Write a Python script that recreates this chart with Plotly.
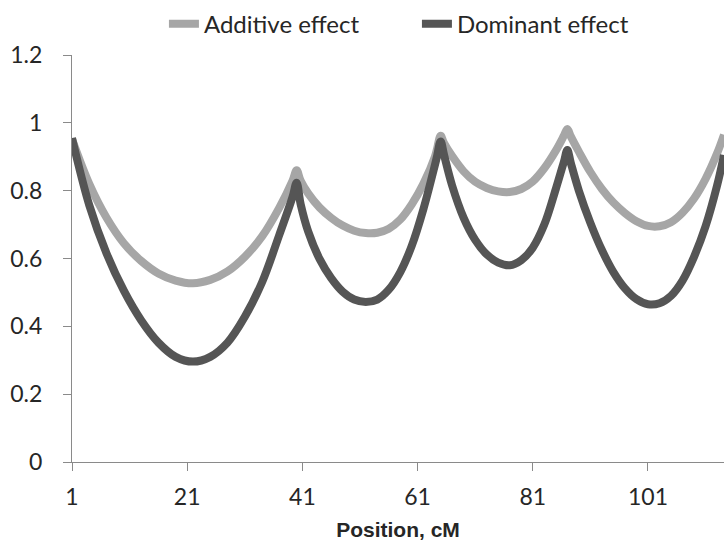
import plotly.graph_objects as go

# Additive effect along the chromosome (position in cM, effect size)
additive_pos = [1, 4, 7, 10, 13, 16, 19, 22, 25, 28, 31, 34, 37, 39.3, 40, 40.7,
                42, 44, 46, 48, 50, 52, 54, 56, 58, 60, 62, 64, 64.4, 65, 65.6,
                67, 69, 71, 73, 75, 77, 79, 81, 83, 85, 86.4, 87, 87.6,
                89, 91, 93, 95, 97, 99, 101, 103, 105, 107, 109, 111, 113, 114.2]
additive_val = [0.952, 0.82, 0.72, 0.645, 0.593, 0.556, 0.535, 0.527, 0.537, 0.562,
                0.605, 0.665, 0.75, 0.83, 0.86, 0.829,
                0.792, 0.75, 0.72, 0.697, 0.682, 0.675, 0.676, 0.688, 0.715, 0.76,
                0.82, 0.9, 0.925, 0.962, 0.94,
                0.902, 0.857, 0.826, 0.808, 0.798, 0.796, 0.805, 0.827, 0.866, 0.918,
                0.962, 0.982, 0.96,
                0.915, 0.855, 0.805, 0.765, 0.734, 0.71, 0.696, 0.695, 0.707, 0.735,
                0.777, 0.835, 0.91, 0.965]

# Dominant effect along the chromosome
dominant_pos = [1, 4, 7, 10, 13, 16, 19, 22, 25, 28, 31, 34, 37, 39.3, 40, 40.7,
                42, 44, 46, 48, 50, 52, 54, 56, 58, 60, 62, 64, 64.4, 65, 65.6,
                67, 69, 71, 73, 75, 77, 79, 81, 83, 85, 86.4, 87, 87.6,
                89, 91, 93, 95, 97, 99, 101, 103, 105, 107, 109, 111, 113, 114.2]
dominant_val = [0.955, 0.757, 0.615, 0.505, 0.418, 0.352, 0.31, 0.296, 0.31, 0.352,
                0.428, 0.53, 0.67, 0.782, 0.823, 0.76,
                0.68, 0.598, 0.542, 0.502, 0.479, 0.472, 0.479, 0.508, 0.56, 0.638,
                0.745, 0.875, 0.903, 0.945, 0.905,
                0.815, 0.72, 0.655, 0.612, 0.588, 0.58, 0.595, 0.632, 0.7, 0.805,
                0.885, 0.92, 0.882,
                0.8, 0.705, 0.625, 0.56, 0.512, 0.48, 0.465, 0.468, 0.49, 0.535,
                0.605, 0.695, 0.815, 0.905]

x_ticks = [1, 21, 41, 61, 81, 101]
y_ticks = [0, 0.2, 0.4, 0.6, 0.8, 1.0, 1.2]
y_tick_text = ["0", "0.2", "0.4", "0.6", "0.8", "1", "1.2"]

TEXT = "#262626"
AXIS = "#8a8a8a"
FONT = "Lato, 'Open Sans', sans-serif"

fig = go.Figure()
fig.add_trace(go.Scatter(
    x=additive_pos, y=additive_val, name="Additive effect", mode="lines",
    line=dict(color="#a6a6a6", width=8, shape="spline", smoothing=1.0),
))
fig.add_trace(go.Scatter(
    x=dominant_pos, y=dominant_val, name="Dominant effect", mode="lines",
    line=dict(color="#555555", width=8, shape="spline", smoothing=1.0),
))

fig.update_layout(
    width=724, height=543,
    margin=dict(l=72, r=0, t=55, b=81),
    paper_bgcolor="white", plot_bgcolor="white",
    font=dict(family=FONT, size=23, color=TEXT),
    showlegend=True,
    legend=dict(
        orientation="h", x=0.141, xanchor="left", y=1.076, yanchor="middle",
        font=dict(family=FONT, size=24, color=TEXT),
        entrywidth=208, entrywidthmode="pixels",
        bgcolor="rgba(0,0,0,0)", itemclick=False,
    ),
    xaxis=dict(
        range=[1, 114.2], tickvals=x_ticks, ticks="outside", ticklen=8,
        tickcolor=AXIS, showline=True, linecolor=AXIS, linewidth=1,
        showgrid=False, zeroline=False, ticklabelstandoff=6,
        tickfont=dict(family=FONT, size=23, color=TEXT),
        title=dict(text="<b>Position, cM</b>",
                   font=dict(family="'Liberation Sans Narrow', 'Liberation Sans', Arial, sans-serif",
                             size=21, color=TEXT),
                   standoff=13),
    ),
    yaxis=dict(
        range=[0, 1.2], tickvals=y_ticks, ticktext=y_tick_text, ticks="outside",
        ticklen=8, tickcolor=AXIS, showline=True, linecolor=AXIS, linewidth=1,
        showgrid=False, zeroline=False, ticklabelstandoff=16,
        tickfont=dict(family=FONT, size=23, color=TEXT),
    ),
)

fig.write_html("out.html")
